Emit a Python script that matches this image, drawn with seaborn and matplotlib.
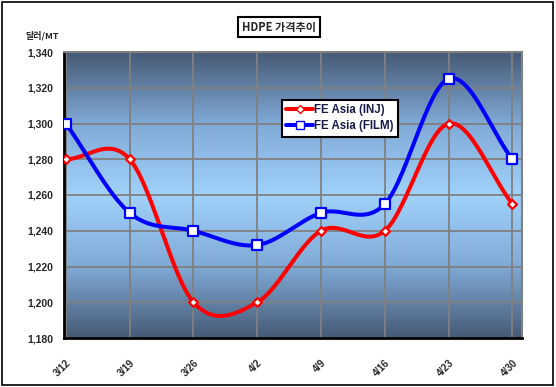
import numpy as np
import pandas as pd
import matplotlib
matplotlib.use('Agg')
import matplotlib.pyplot as plt
from matplotlib.lines import Line2D
from matplotlib.colors import LinearSegmentedColormap
from matplotlib.patches import Rectangle
import seaborn as sns

dates = ['3/12', '3/19', '3/26', '4/2', '4/9', '4/16', '4/23', '4/30']
inj = [1280, 1280, 1200, 1200, 1240, 1240, 1300, 1255]
film = [1300, 1250, 1240, 1232, 1250, 1255, 1325, 1280]

sns.set_style('white')
plt.rcParams['font.family'] = ['Noto Sans CJK KR', 'DejaVu Sans']


def smooth(xs, ys, n=30):
    # Catmull-Rom style smoothing, like Excel's "smoothed line"
    p = np.column_stack([xs, ys]).astype(float)
    p = np.vstack([p[0] - (p[1] - p[0]), p, p[-1] + (p[-1] - p[-2])])
    out = []
    t = np.linspace(0, 1, n)[:, None]
    for i in range(1, len(p) - 2):
        p0, p1, p2, p3 = p[i - 1], p[i], p[i + 1], p[i + 2]
        seg = 0.5 * ((2 * p1) + (-p0 + p2) * t + (2 * p0 - 5 * p1 + 4 * p2 - p3) * t ** 2
                     + (-p0 + 3 * p1 - 3 * p2 + p3) * t ** 3)
        out.append(seg)
    out = np.vstack(out)
    return out[:, 0], out[:, 1]


fig = plt.figure(figsize=(5.56, 3.87), dpi=100)
fig.patches.append(Rectangle((0.003, 0.004), 0.992, 0.99, transform=fig.transFigure,
                             fill=False, edgecolor='black', linewidth=1.2))
ax = fig.add_axes([64 / 556, 49 / 387, 458 / 556, 286 / 387])

# gradient background
cmap = LinearSegmentedColormap.from_list('bg', ['#465a76', '#80aad6', '#a0d2fa', '#80aad6', '#465a76'])
grad = np.linspace(0, 1, 256)[:, None]
ax.imshow(grad, aspect='auto', cmap=cmap, extent=[0, 1, 0, 1], transform=ax.transAxes, zorder=0)

x = np.arange(len(dates))
for vals, col, mk, ms, lbl in [(inj, '#ff0000', 'D', 4.5, 'FE Asia (INJ)'),
                               (film, '#0000ff', 's', 7, 'FE Asia (FILM)')]:
    sx, sy = smooth(x, vals)
    ax.plot(sx, sy, color=col, linewidth=2.9, zorder=3, solid_capstyle='round')
    df = pd.DataFrame({'x': x, 'y': vals})
    sns.scatterplot(data=df, x='x', y='y', ax=ax, marker=mk, s=ms ** 2, color='white',
                    edgecolor=col, linewidth=1.6, zorder=4)

ax.set_xlim(-0.03, 7.15)
ax.set_ylim(1180, 1340)
ax.set_yticks(range(1180, 1341, 20))
ax.set_yticklabels([f'{v:,}' for v in range(1180, 1341, 20)], fontsize=7.5,
                   fontweight='bold', family=['Liberation Sans'])
ax.set_xticks(x)
ax.set_xticklabels(dates, rotation=45, fontsize=7, fontweight='bold',
                   family=['Liberation Sans'], ha='right', rotation_mode='anchor')
ax.tick_params(axis='x', pad=14, length=3, direction='in', color='black', width=1.5)
ax.tick_params(axis='y', pad=8, length=3, direction='in', color='black', width=1.5)
ax.set_xlabel('')
ax.set_ylabel('')
ax.grid(True, color='#808080', linewidth=1.3, zorder=1)
ax.set_axisbelow(True)
for s in ['top', 'right']:
    ax.spines[s].set_color('#808080')
    ax.spines[s].set_linewidth(1.5)
for s in ['left', 'bottom']:
    ax.spines[s].set_color('black')
    ax.spines[s].set_linewidth(2)

handles = [Line2D([], [], color='#ff0000', lw=2.9, marker='D', ms=4.5, mfc='white', mec='#ff0000'),
           Line2D([], [], color='#0000ff', lw=2.9, marker='s', ms=6, mfc='white', mec='#0000ff')]
leg = ax.legend(handles, ['FE Asia (INJ)', 'FE Asia (FILM)'], loc='upper left',
                bbox_to_anchor=(0.463, 0.853), frameon=True, fancybox=False,
                edgecolor='black', framealpha=1, handlelength=2.3,
                handletextpad=0.1, borderpad=0.4, labelspacing=0.35,
                prop={'family': ['Liberation Sans'], 'weight': 'bold', 'size': 8.3})
leg.get_frame().set_linewidth(1.5)
for t in leg.get_texts():
    t.set_color('#1a1a4a')

fig.text(279 / 556, 1 - 27 / 387, 'HDPE 가격추이', ha='center', va='center', fontsize=8,
         fontweight='bold',
         bbox=dict(boxstyle='square,pad=0.35', facecolor='white', edgecolor='black', linewidth=1.5))
fig.text(25 / 556, 1 - 36 / 387, '달러/MT', ha='left', va='center', fontsize=6.5, fontweight='bold')

fig.savefig('out.png', dpi=100)
